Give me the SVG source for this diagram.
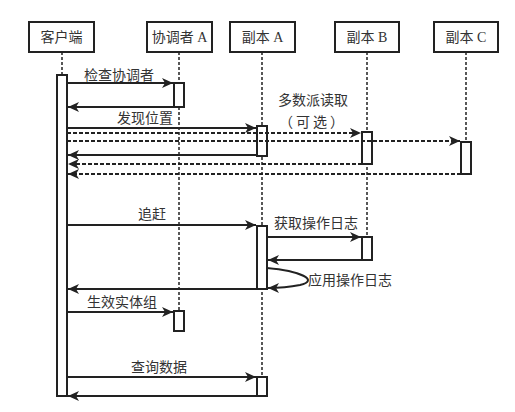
<svg xmlns="http://www.w3.org/2000/svg" width="515" height="412" viewBox="0 0 515 412">
<defs>
<marker id="ah" markerWidth="12" markerHeight="10" refX="11" refY="5" orient="auto" markerUnits="userSpaceOnUse">
<path d="M0,0 L11,5 L0,10 L3,5 Z" fill="#222"/>
</marker>
</defs>
<style>
text{font-family:"Liberation Serif","Noto Sans CJK SC",serif;font-size:14px;fill:#333}
.hdr{fill:#fff;stroke:#222;stroke-width:2}
.life{stroke:#222;stroke-width:1.5;stroke-dasharray:3,2;fill:none}
.act{fill:#fff;stroke:#222;stroke-width:2}
.msg{stroke:#222;stroke-width:2;fill:none;marker-end:url(#ah)}
.dmsg{stroke:#222;stroke-width:2;fill:none;stroke-dasharray:4,2;marker-end:url(#ah)}
</style>
<rect width="515" height="412" fill="#fff"/>
<g id="client">
<rect class="hdr" x="29" y="22" width="65" height="30"/>
<text x="61.5" y="42" text-anchor="middle">客户端</text>
<line class="life" x1="62" y1="52" x2="62" y2="75"/>
</g>
<g id="coordA">
<rect class="hdr" x="147" y="22" width="65" height="30"/>
<text x="179.5" y="42" text-anchor="middle">协调者 A</text>
<line class="life" x1="179" y1="52" x2="179" y2="311"/>
</g>
<g id="replicaA">
<rect class="hdr" x="230" y="22" width="65" height="30"/>
<text x="262.5" y="42" text-anchor="middle">副本 A</text>
<line class="life" x1="262" y1="52" x2="262" y2="377" stroke-width="2"/>
</g>
<g id="replicaB">
<rect class="hdr" x="335" y="22" width="64" height="30"/>
<text x="367" y="42" text-anchor="middle">副本 B</text>
<line class="life" x1="367" y1="52" x2="367" y2="237"/>
</g>
<g id="replicaC">
<rect class="hdr" x="434" y="22" width="64" height="30"/>
<text x="466" y="42" text-anchor="middle">副本 C</text>
<line class="life" x1="466" y1="52" x2="466" y2="142"/>
</g>
<g id="activations">
<rect class="act" x="57" y="75" width="10" height="321"/>
<rect class="act" x="174" y="83" width="10" height="24"/>
<rect class="act" x="257" y="126" width="10" height="30"/>
<rect class="act" x="362" y="132" width="10" height="32"/>
<rect class="act" x="461" y="142" width="10" height="32"/>
<rect class="act" x="257" y="226" width="10" height="63"/>
<rect class="act" x="362" y="237" width="10" height="23"/>
<rect class="act" x="174" y="311" width="10" height="20"/>
<rect class="act" x="257" y="377" width="10" height="19"/>
</g>
<g id="connectors">
<line class="msg" x1="67" y1="83" x2="173" y2="83"/>
<line class="msg" x1="174" y1="107" x2="68" y2="107"/>
<line class="msg" x1="67" y1="128" x2="256" y2="128"/>
<line class="dmsg" x1="67" y1="133" x2="361" y2="133"/>
<line class="dmsg" x1="67" y1="141" x2="460" y2="141"/>
<line class="msg" x1="257" y1="155" x2="68" y2="155"/>
<line class="dmsg" x1="362" y1="164" x2="68" y2="164"/>
<line class="dmsg" x1="461" y1="174" x2="68" y2="174"/>
<line class="msg" x1="67" y1="225" x2="256" y2="225"/>
<line class="msg" x1="267" y1="237" x2="361" y2="237"/>
<line class="msg" x1="362" y1="260" x2="268" y2="260"/>
<path class="msg" d="M267,268 C300,271 320,280 300,285 C290,287 280,288 268,288"/>
<line class="msg" x1="257" y1="289" x2="68" y2="289"/>
<line class="msg" x1="67" y1="312" x2="173" y2="312"/>
<line class="msg" x1="67" y1="377" x2="256" y2="377"/>
<line class="msg" x1="257" y1="396" x2="68" y2="396"/>
</g>
<g id="labels">
<text x="119" y="80" text-anchor="middle">检查协调者</text>
<text x="145" y="123" text-anchor="middle">发现位置</text>
<text x="313" y="105" text-anchor="middle">多数派读取</text>
<text x="313" y="127" text-anchor="middle" letter-spacing="3">（可选）</text>
<text x="152" y="219" text-anchor="middle">追赶</text>
<text x="316" y="228" text-anchor="middle">获取操作日志</text>
<text x="350" y="285" text-anchor="middle">应用操作日志</text>
<text x="122" y="307" text-anchor="middle">生效实体组</text>
<text x="159" y="372" text-anchor="middle">查询数据</text>
</g>
</svg>
